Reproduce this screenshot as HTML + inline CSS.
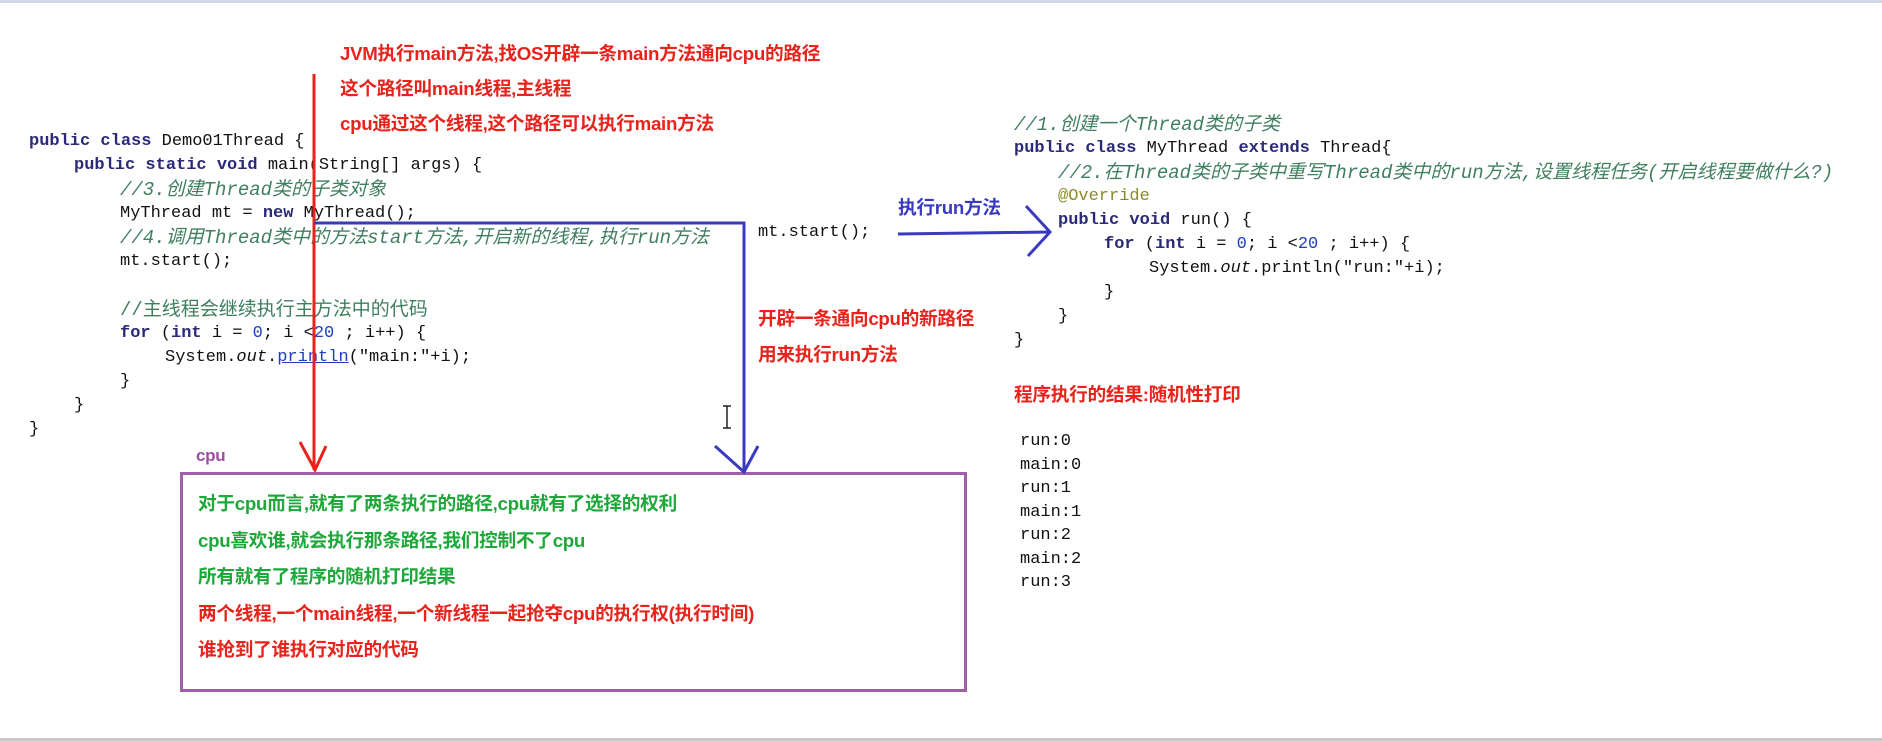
<!DOCTYPE html>
<html><head><meta charset="utf-8"><style>
body{margin:0;width:1882px;height:741px;background:#fff;position:relative;overflow:hidden;font-family:"Liberation Sans","Noto Sans CJK SC",sans-serif}
.c{position:absolute;font-family:"Liberation Mono","Noto Sans CJK SC",monospace;font-size:17px;white-space:pre;color:#111;line-height:20px}
.k{color:#2a2a78;font-weight:bold}
.g{color:#3f7f5f;font-size:19px}
.gi{color:#3f7f5f;font-style:italic;font-size:19px}
.n{color:#1c3fbf}
.t{position:absolute;font-weight:bold;font-size:18.7px;white-space:nowrap;line-height:20px;letter-spacing:-0.3px}
.r{color:#e8231c}.gr{color:#1ea83a}.b{color:#3a3ac0}
</style></head><body>
<div style="position:absolute;left:0;top:0;width:1882px;height:3px;background:#cfd8e6"></div>
<div style="position:absolute;left:0;top:738px;width:1882px;height:3px;background:#c8c8c8"></div>

<div class="t r" style="left:340px;top:44px">JVM执行main方法,找OS开辟一条main方法通向cpu的路径</div>
<div class="t r" style="left:340px;top:79px">这个路径叫main线程,主线程</div>
<div class="t r" style="left:340px;top:114px">cpu通过这个线程,这个路径可以执行main方法</div>

<div class="c" style="left:29px;top:132px"><span class="k">public class</span> Demo01Thread {</div>
<div class="c" style="left:74px;top:156px"><span class="k">public static void</span> main(String[] args) {</div>
<div class="c" style="left:120px;top:180px"><span class="gi">//3.创建Thread类的子类对象</span></div>
<div class="c" style="left:120px;top:204px">MyThread mt = <span class="k">new</span> MyThread();</div>
<div class="c" style="left:120px;top:228px"><span class="gi">//4.调用Thread类中的方法start方法,开启新的线程,执行run方法</span></div>
<div class="c" style="left:120px;top:252px">mt.start();</div>
<div class="c" style="left:120px;top:300px"><span class="g">//主线程会继续执行主方法中的代码</span></div>
<div class="c" style="left:120px;top:324px"><span class="k">for</span> (<span class="k">int</span> i = <span class="n">0</span>; i &lt;<span class="n">20</span> ; i++) {</div>
<div class="c" style="left:165px;top:348px">System.<i>out</i>.<u style="color:#1c3fbf">println</u>("main:"+i);</div>
<div class="c" style="left:120px;top:372px">}</div>
<div class="c" style="left:74px;top:396px">}</div>
<div class="c" style="left:29px;top:420px">}</div>

<div class="c" style="left:758px;top:223px">mt.start();</div>
<div class="t b" style="left:898px;top:198px">执行run方法</div>
<div class="t r" style="left:758px;top:309px">开辟一条通向cpu的新路径</div>
<div class="t r" style="left:758px;top:345px">用来执行run方法</div>

<div class="c" style="left:1014px;top:115px"><span class="gi">//1.创建一个Thread类的子类</span></div>
<div class="c" style="left:1014px;top:139px"><span class="k">public class</span> MyThread <span class="k">extends</span> Thread{</div>
<div class="c" style="left:1058px;top:163px"><span class="gi">//2.在Thread类的子类中重写Thread类中的run方法,设置线程任务(开启线程要做什么?)</span></div>
<div class="c" style="left:1058px;top:187px"><span style="color:#8a8a2a">@Override</span></div>
<div class="c" style="left:1058px;top:211px"><span class="k">public void</span> run() {</div>
<div class="c" style="left:1104px;top:235px"><span class="k">for</span> (<span class="k">int</span> i = <span class="n">0</span>; i &lt;<span class="n">20</span> ; i++) {</div>
<div class="c" style="left:1149px;top:259px">System.<i>out</i>.println("run:"+i);</div>
<div class="c" style="left:1104px;top:283px">}</div>
<div class="c" style="left:1058px;top:307px">}</div>
<div class="c" style="left:1014px;top:331px">}</div>

<div class="t r" style="left:1014px;top:385px">程序执行的结果:随机性打印</div>
<div class="c" style="left:1020px;top:430px;line-height:23.5px">run:0
main:0
run:1
main:1
run:2
main:2
run:3</div>

<div class="t" style="left:196px;top:446px;color:#9b4fa0;font-size:17px">cpu</div>
<div style="position:absolute;left:180px;top:472px;width:781px;height:214px;border:3px solid #a060a8"></div>
<div class="t gr" style="left:198px;top:494px">对于cpu而言,就有了两条执行的路径,cpu就有了选择的权利</div>
<div class="t gr" style="left:198px;top:531px">cpu喜欢谁,就会执行那条路径,我们控制不了cpu</div>
<div class="t gr" style="left:198px;top:567px">所有就有了程序的随机打印结果</div>
<div class="t r" style="left:198px;top:604px">两个线程,一个main线程,一个新线程一起抢夺cpu的执行权(执行时间)</div>
<div class="t r" style="left:198px;top:640px">谁抢到了谁执行对应的代码</div>

<svg width="1882" height="741" style="position:absolute;left:0;top:0" fill="none">
<path d="M314 74 V470" stroke="#e8231c" stroke-width="3"/>
<path d="M300 442 L315 470 L326 446" stroke="#e8231c" stroke-width="3"/>
<path d="M314 223 H744 V470" stroke="#3a3ac0" stroke-width="3"/>
<path d="M715 446 L744 472 L758 446" stroke="#3a3ac0" stroke-width="3"/>
<path d="M898 234 L1050 232" stroke="#3a3ac0" stroke-width="3"/>
<path d="M1026 206 L1050 232 L1028 256" stroke="#3a3ac0" stroke-width="3"/>
<path d="M723 406 h8 M727 406 v22 M723 428 h8" stroke="#222" stroke-width="1.5"/>
</svg>
</body></html>
